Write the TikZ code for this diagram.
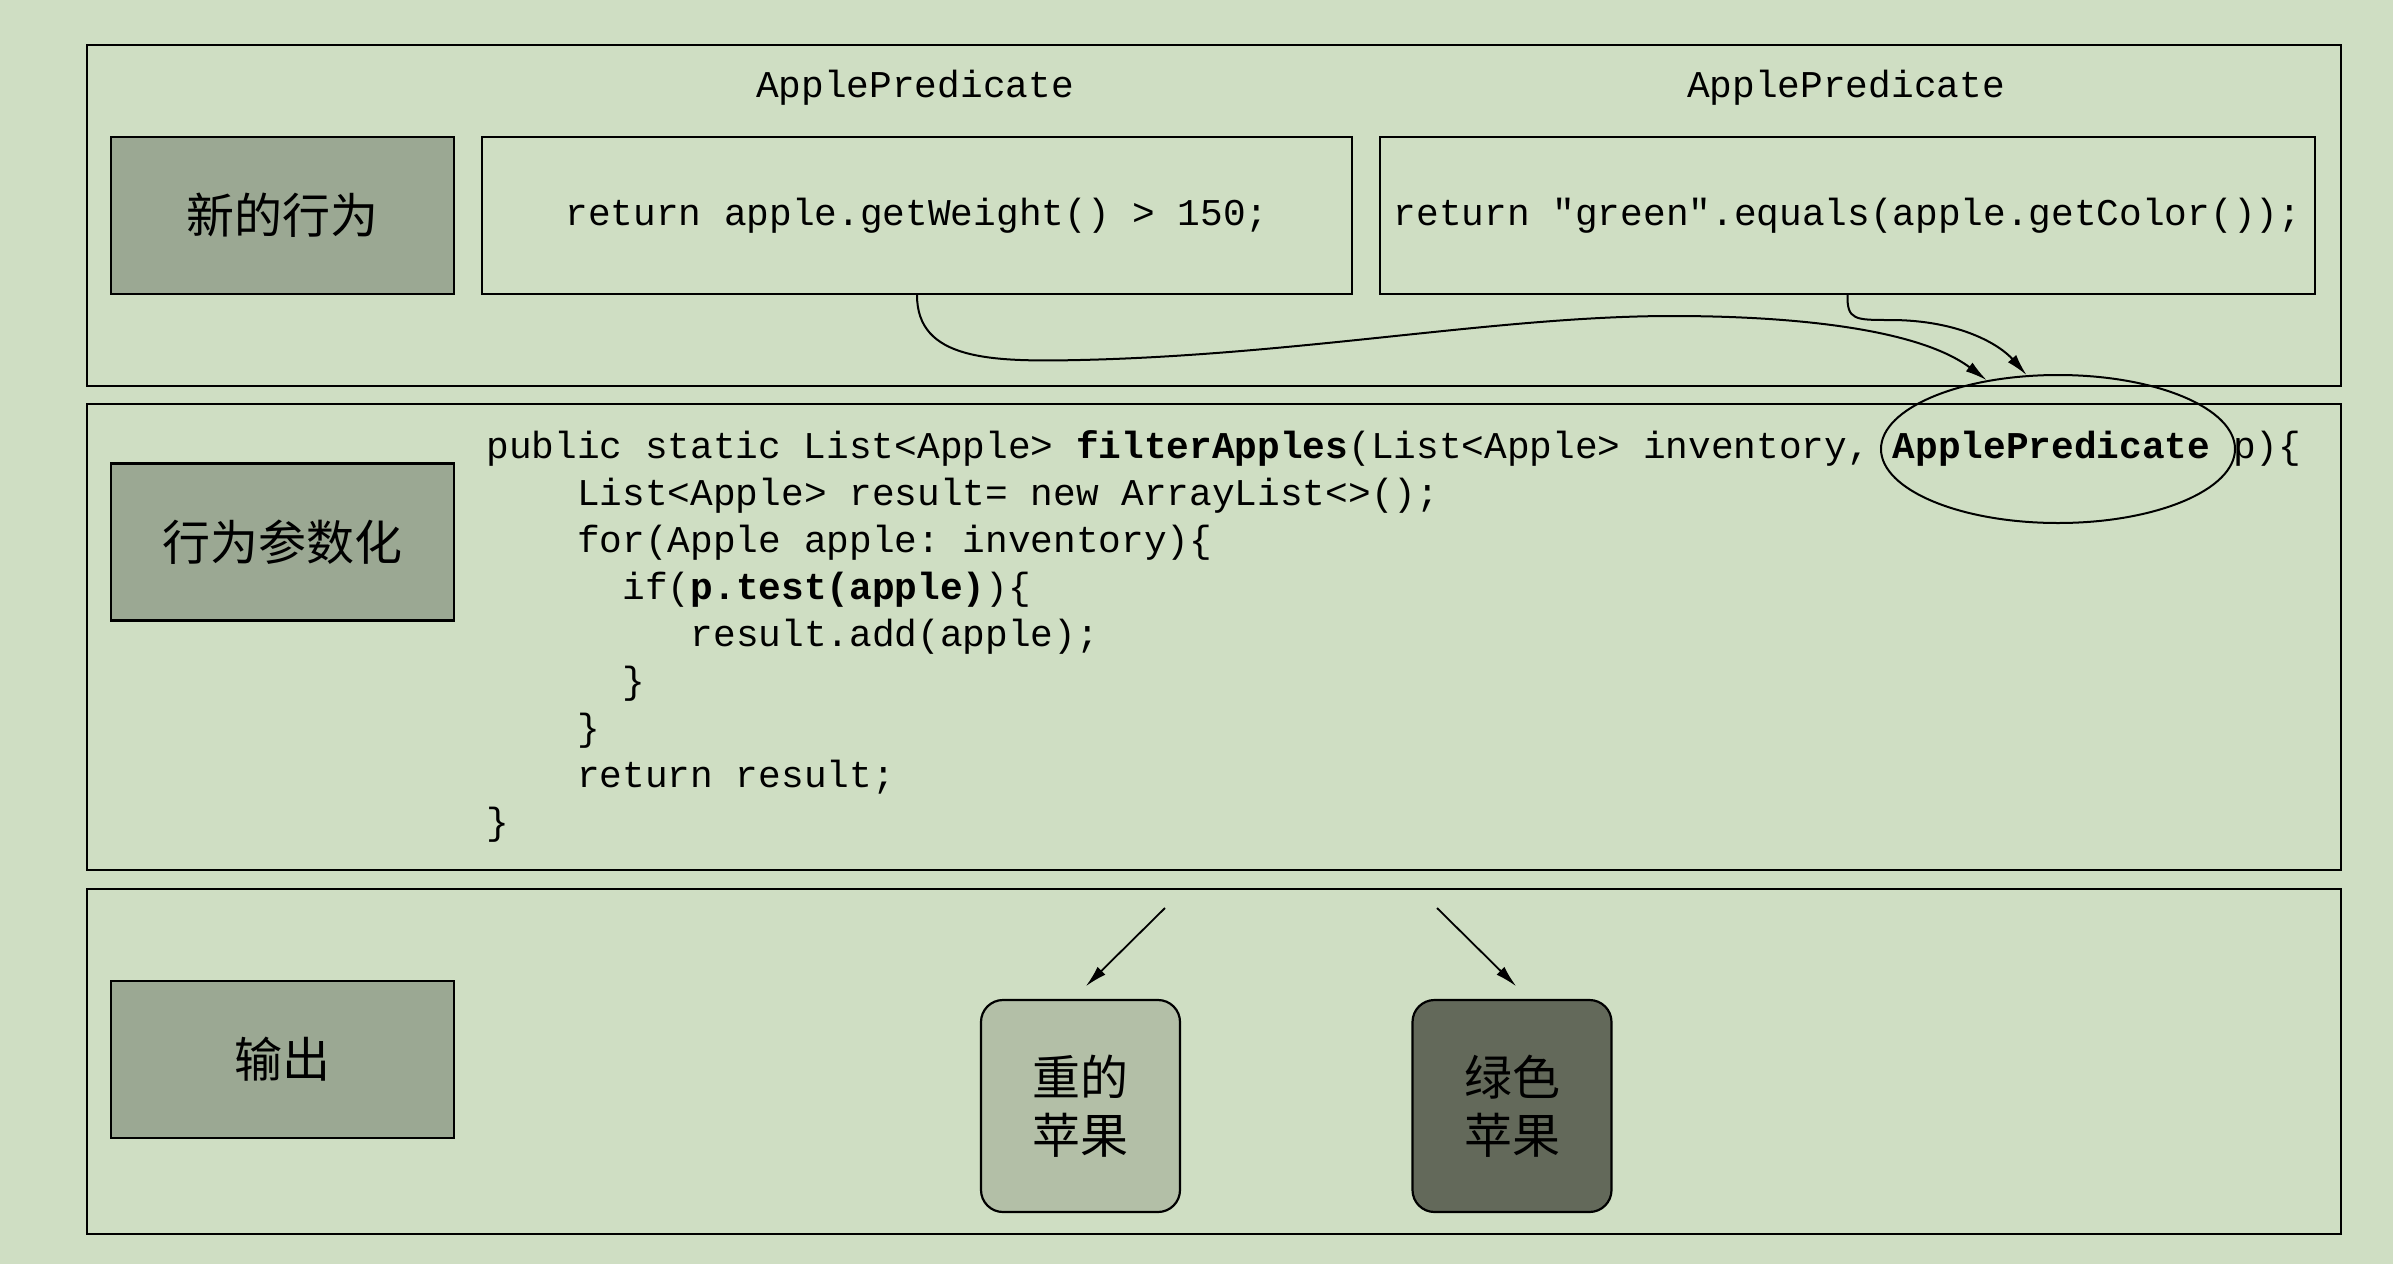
\documentclass[tikz,border=0pt]{standalone}
\usepackage{fontspec}
\setmonofont{Liberation Mono}
\newfontfamily\cjk{Noto Sans CJK SC}
\usetikzlibrary{shapes.geometric,arrows.meta}

\definecolor{bggreen}{HTML}{CFDEC3}
\definecolor{tagfill}{HTML}{9BA893}
\definecolor{heavyfill}{HTML}{B3BFA7}
\definecolor{greenfill}{HTML}{63695A}

\newcommand{\codefont}{\ttfamily\fontsize{18.9pt}{23.5pt}\selectfont}
\newcommand{\hanfont}{\cjk\fontsize{24pt}{29pt}\selectfont}

\begin{document}
\begin{tikzpicture}[x=0.5pt,y=-0.5pt,
    panel/.style={draw,line width=1.2pt,minimum width=1127pt,inner sep=0pt},
    tag/.style={draw,line width=1.4pt,fill=tagfill,minimum width=171.5pt,minimum height=78.5pt,inner sep=0pt,font=\hanfont},
    codebox/.style={draw,line width=1.1pt,minimum height=78.5pt,inner sep=0pt,font=\codefont},
    code/.style={anchor=base west,inner sep=0pt,font=\codefont},
    fruit/.style={draw,line width=1.1pt,rounded corners=11pt,minimum width=99.5pt,minimum height=106pt,align=center,font=\hanfont},
    link/.style={line width=1pt,-{Latex[length=11pt,width=5.5pt]}}]
    \path[use as bounding box,fill=bggreen] (0,0) rectangle (2393,1264);

    % the three bands
    \node[panel,minimum height=170.5pt] (behav) at (1214,215.5) {};
    \node[panel,minimum height=233pt] (param) at (1214,637) {};
    \node[panel,minimum height=172.5pt] (output) at (1214,1061.5) {};

    \node[tag] (newtag) at (282.5,215.5) {新的行为};
    \node[tag] (paramtag) at (282.5,542) {行为参数化};
    \node[tag] (outtag) at (282.5,1059.5) {输出};

    % two behaviours
    \node[code,anchor=base] (predA) at (915,97) {ApplePredicate};
    \node[code,anchor=base] (predB) at (1846,97) {ApplePredicate};
    \node[codebox,minimum width=435pt] (weight) at (917,215.5) {return apple.getWeight() > 150;};
    \node[codebox,minimum width=467.5pt] (color) at (1847.5,215.5) {return "green".equals(apple.getColor());};

    % filter method
    \node[code] (l1) at (486,458) {public static List<Apple> \textbf{filterApples}(List<Apple> inventory, \textbf{ApplePredicate} p)\{};
    \node[code] (l2) at (576.8,505) {List<Apple> result= new ArrayList<>();};
    \node[code] (l3) at (576.8,552) {for(Apple apple: inventory)\{};
    \node[code] (l4) at (622.2,599) {if(\textbf{p.test(apple)})\{};
    \node[code] (l5) at (690.3,646) {result.add(apple);};
    \node[code] (l6) at (622.2,693) {\}};
    \node[code] (l7) at (576.8,740) {\}};
    \node[code] (l8) at (576.8,787) {return result;};
    \node[code] (l9) at (486,834) {\}};
    \node[draw,ellipse,line width=1pt,minimum width=177pt,minimum height=74pt,inner sep=0pt] (circled) at (2058,449) {};

    \draw[link] (weight.south) .. controls (917,360) and (990,362) .. (1080,360)
        .. controls (1300,355) and (1500,316) .. (1672,316)
        .. controls (1800,316) and (1920,330) .. (circled.136);
    \draw[link] (color.south) .. controls (1847,320) and (1855,320) .. (1890,320)
        .. controls (1960,320) and (2000,345) .. (circled.113);

    % results
    \node[fruit,fill=heavyfill] (heavy) at (1080.5,1106) {重的\\苹果};
    \node[fruit,fill=greenfill] (green) at (1512,1106) {绿色\\苹果};
    \coordinate (heavyfrom) at (1165,908);
    \coordinate (greenfrom) at (1437,908);
    \draw[link,line width=0.9pt,shorten >=9pt] (heavyfrom) -- (heavy.94);
    \draw[link,line width=0.9pt,shorten >=9pt] (greenfrom) -- (green.81);
\end{tikzpicture}
\end{document}
